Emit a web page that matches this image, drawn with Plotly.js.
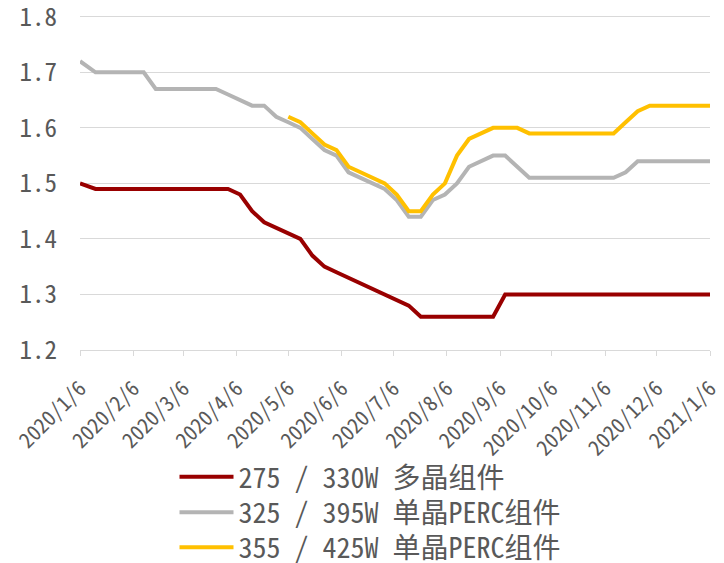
<!DOCTYPE html>
<html>
<head>
<meta charset="utf-8">
<script src="https://cdn.plot.ly/plotly-3.0.1.min.js"></script>
<style>html,body{margin:0;padding:0;background:#fff;}#chart{width:724px;height:563px;}</style>
</head>
<body>
<div id="chart"></div>
<script>
const dates = [
  "2020-01-06","2020-01-15","2020-01-22","2020-01-29","2020-02-05","2020-02-12","2020-02-19","2020-02-26",
  "2020-03-04","2020-03-11","2020-03-18","2020-03-25","2020-04-01","2020-04-08","2020-04-15","2020-04-22",
  "2020-04-29","2020-05-06","2020-05-13","2020-05-20","2020-05-27","2020-06-03","2020-06-10","2020-06-17",
  "2020-06-24","2020-07-01","2020-07-08","2020-07-15","2020-07-22","2020-07-29","2020-08-05","2020-08-12",
  "2020-08-19","2020-08-26","2020-09-02","2020-09-09","2020-09-16","2020-09-23","2020-09-30","2020-10-07",
  "2020-10-14","2020-10-21","2020-10-28","2020-11-04","2020-11-11","2020-11-18","2020-11-25","2020-12-02",
  "2020-12-09","2020-12-16","2020-12-23","2020-12-30","2021-01-06"
];
const poly275 = [
  1.50,1.49,1.49,1.49,1.49,1.49,1.49,1.49,1.49,1.49,1.49,1.49,1.49,1.48,1.45,1.43,
  1.42,1.41,1.40,1.37,1.35,1.34,1.33,1.32,1.31,1.30,1.29,1.28,1.26,1.26,1.26,1.26,
  1.26,1.26,1.26,1.30,1.30,1.30,1.30,1.30,1.30,1.30,1.30,1.30,1.30,1.30,1.30,1.30,
  1.30,1.30,1.30,1.30,1.30
];
const mono325 = [
  1.72,1.70,1.70,1.70,1.70,1.70,1.67,1.67,1.67,1.67,1.67,1.67,1.66,1.65,1.64,1.64,
  1.62,1.61,1.60,1.58,1.56,1.55,1.52,1.51,1.50,1.49,1.47,1.44,1.44,1.47,1.48,1.50,
  1.53,1.54,1.55,1.55,1.53,1.51,1.51,1.51,1.51,1.51,1.51,1.51,1.51,1.52,1.54,1.54,
  1.54,1.54,1.54,1.54,1.54
];
const mono355 = [
  null,null,null,null,null,null,null,null,null,null,null,null,null,null,null,null,
  null,1.62,1.61,1.59,1.57,1.56,1.53,1.52,1.51,1.50,1.48,1.45,1.45,1.48,1.50,1.55,
  1.58,1.59,1.60,1.60,1.60,1.59,1.59,1.59,1.59,1.59,1.59,1.59,1.59,1.61,1.63,1.64,
  1.64,1.64,1.64,1.64,1.64
];
const seriesNames = ["275 / 330W 多晶组件","325 / 395W 单晶PERC组件","355 / 425W 单晶PERC组件"];
const seriesColors = ["#990000","#B4B4B4","#FFC000"];
const tickDates = ["2020-01-06","2020-02-06","2020-03-06","2020-04-06","2020-05-06","2020-06-06","2020-07-06",
  "2020-08-06","2020-09-06","2020-10-06","2020-11-06","2020-12-06","2021-01-06"];
const tickLabels = ["2020/1/6","2020/2/6","2020/3/6","2020/4/6","2020/5/6","2020/6/6","2020/7/6",
  "2020/8/6","2020/9/6","2020/10/6","2020/11/6","2020/12/6","2021/1/6"];
const yTicks = [1.2,1.3,1.4,1.5,1.6,1.7,1.8];

const FONT = '"Noto Sans Mono CJK SC", "Liberation Mono", "Noto Sans CJK SC", monospace';
const vals = [poly275, mono325, mono355];
const legendIds = ['legend','legend2','legend3'];
const traces = vals.map((v,i)=>({
  x: dates, y: v, type: 'scatter', mode: 'lines', name: seriesNames[i],
  line: {color: seriesColors[i], width: 4}, connectgaps: false,
  legend: legendIds[i]
}));

const legendRowY = [-0.378, -0.484, -0.588];
function legendCfg(yy){
  return {
    orientation: 'v', x: 0.15, xanchor: 'left', y: yy, yanchor: 'middle',
    font: {family: FONT, size: 28, color: '#595959'},
    itemwidth: 54, bgcolor: 'rgba(0,0,0,0)', borderwidth: 0
  };
}

const layout = {
  width: 724, height: 563,
  margin: {l: 80, r: 14, t: 14, b: 213, autoexpand: false},
  paper_bgcolor: '#fff', plot_bgcolor: '#fff',
  showlegend: true,
  font: {family: FONT, color: '#595959'},
  xaxis: {
    type: 'date', range: ['2020-01-06','2021-01-06'],
    tickvals: tickDates, ticktext: tickLabels, tickangle: -45,
    showgrid: false, zeroline: false,
    showline: true, linecolor: '#D9D9D9', linewidth: 1,
    ticks: 'outside', ticklen: 5, tickcolor: '#D9D9D9',
    tickfont: {family: FONT, size: 21, color: '#595959'},
    ticklabelstandoff: 12
  },
  yaxis: {
    range: [1.2, 1.805], tickvals: yTicks, tickformat: '.1f',
    showgrid: true, gridcolor: '#D9D9D9', gridwidth: 1,
    zeroline: false, showline: false, ticks: '',
    tickfont: {family: FONT, size: 25, color: '#595959'},
    ticklabelstandoff: 22, ticklabeloverflow: 'allow'
  },
  legend: legendCfg(legendRowY[0]),
  legend2: legendCfg(legendRowY[1]),
  legend3: legendCfg(legendRowY[2])
};
Plotly.newPlot('chart', traces, layout, {displayModeBar: false, staticPlot: true});
</script>
</body>
</html>
